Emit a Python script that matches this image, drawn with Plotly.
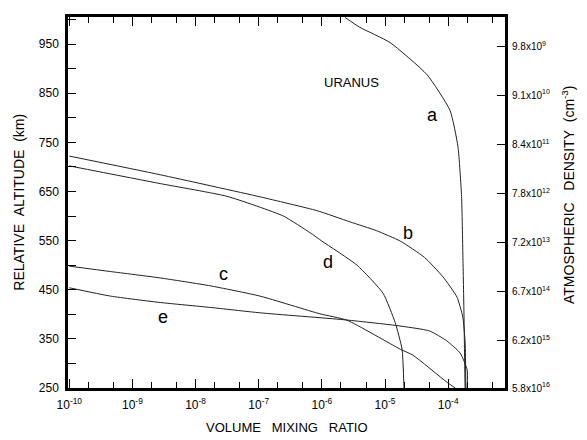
import math
import plotly.graph_objects as go

# ---- data (volume mixing ratio, relative altitude km) ----
a_x = [2.33e-6, 4.0e-6, 1.2e-5, 4.6e-5, 1.07e-4, 1.43e-4, 1.63e-4, 1.71e-4, 1.78e-4, 1.85e-4]
a_y = [1004, 984, 953, 888, 815, 741, 640, 520, 400, 250]

b_x = [1.0e-10, 2.75e-9, 1.05e-7, 8.3e-7, 2.8e-6, 7.4e-6, 1.74e-5, 4.2e-5, 8.3e-5, 1.38e-4, 1.7e-4, 1.86e-4, 1.9e-4]
b_y = [722, 684, 639, 611, 588, 570, 549, 516, 476, 435, 395, 341, 250]

c_x = [1.0e-10, 4.5e-10, 2.75e-9, 1.7e-8, 1.05e-7, 9.3e-7, 2.5e-6, 1.74e-5, 2.75e-5, 9.5e-5, 1.29e-4]
c_y = [498, 487, 474, 458, 437, 401, 388, 329, 317, 262, 250]

d_x = [1.0e-10, 2.75e-9, 3.16e-8, 2.45e-7, 6.5e-7, 1.0e-6, 3.6e-6, 9.3e-6, 1.45e-5, 1.86e-5, 2.0e-5]
d_y = [702, 666, 640, 600, 566, 549, 500, 443, 383, 329, 250]

e_x = [1.0e-10, 4.5e-10, 2.75e-9, 1.7e-8, 1.05e-7, 2.2e-6, 1.55e-5, 5.1e-5, 9.5e-5, 1.55e-4, 2.0e-4, 2.0e-4]
e_y = [454, 437, 424, 414, 403, 389, 377, 366, 346, 321, 287, 250]

curve_names = ["a", "b", "c", "d", "e"]
label_x = [5.75e-5, 2.3e-5, 2.75e-8, 1.26e-6, 3.1e-9]
label_y = [805, 566, 482, 506, 394]

x_tick_vals = [1e-10, 1e-9, 1e-8, 1e-7, 1e-6, 1e-5, 1e-4]
x_tick_text = ["10<sup>-10</sup>", "10<sup>-9</sup>", "10<sup>-8</sup>", "10<sup>-7</sup>",
               "10<sup>-6</sup>", "10<sup>-5</sup>", "10<sup>-4</sup>"]
y_tick_vals = [250, 350, 450, 550, 650, 750, 850, 950]
y_minor_vals = [300, 400, 500, 600, 700, 800, 900, 1000]
dens_tick_vals = [250, 346, 446, 546, 646, 746, 846, 944]
dens_tick_text = ["5.8x10<sup>16</sup>", "6.2x10<sup>15</sup>", "6.7x10<sup>14</sup>", "7.2x10<sup>13</sup>",
                  "7.8x10<sup>12</sup>", "8.4x10<sup>11</sup>", "9.1x10<sup>10</sup>", "9.8x10<sup>9</sup>"]

x_minor_vals = []
for k in range(-10, -3):
    for m in (2, 5):
        x_minor_vals.append(m * 10.0 ** k)

FONT = "Liberation Sans, Arial, sans-serif"
fig = go.Figure()
for xs, ys in [(a_x, a_y), (b_x, b_y), (c_x, c_y), (d_x, d_y), (e_x, e_y)]:
    fig.add_trace(go.Scatter(x=xs, y=ys, mode="lines",
                             line=dict(color="#222", width=1, shape="spline", smoothing=0.5),
                             showlegend=False, hoverinfo="skip"))

# dummy trace for right axis
fig.add_trace(go.Scatter(x=[1e-10], y=[250], yaxis="y2", mode="markers",
                         marker=dict(opacity=0), showlegend=False, hoverinfo="skip"))

for n, lx, ly in zip(curve_names, label_x, label_y):
    fig.add_annotation(x=math.log10(lx), y=ly, xref="x", yref="y", text=n, showarrow=False,
                       font=dict(family=FONT, size=18, color="black"))

fig.add_annotation(x=math.log10(3.0e-6), y=872, xref="x", yref="y", text="URANUS", showarrow=False,
                   font=dict(family=FONT, size=13, color="black"))

# The page body adds an 8px offset; compensate in size/margins
fig.update_layout(
    width=579, height=432,
    margin=dict(l=60, r=82, t=6, b=52),
    paper_bgcolor="white", plot_bgcolor="white",
    xaxis=dict(type="log", range=[-10.02, -3.1], showgrid=False, zeroline=False,
               showline=True, linecolor="black", linewidth=2.5, mirror="ticks",
               ticks="inside", ticklen=9, tickwidth=1.2, tickcolor="black",
               tickmode="array", tickvals=x_tick_vals, ticktext=x_tick_text,
               ticklabelstandoff=4,
               tickfont=dict(family=FONT, size=12, color="black"),
               minor=dict(tickmode="array", tickvals=x_minor_vals, ticks="inside",
                          ticklen=6, tickwidth=1, tickcolor="black", showgrid=False)),
    yaxis=dict(range=[250, 1005], showgrid=False, zeroline=False,
               showline=True, linecolor="black", linewidth=2.5, mirror=True,
               ticks="inside", ticklen=8, tickwidth=1.2, tickcolor="black",
               tickmode="array", tickvals=y_tick_vals, ticklabelstandoff=4,
               tickfont=dict(family=FONT, size=12, color="black"),
               minor=dict(tickmode="array", tickvals=y_minor_vals, ticks="inside",
                          ticklen=8, tickwidth=1, tickcolor="black", showgrid=False)),
    yaxis2=dict(range=[250, 1005], overlaying="y", side="right", showgrid=False,
                zeroline=False, showline=False,
                ticks="inside", ticklen=8, tickwidth=1.2, tickcolor="black",
                tickmode="array", tickvals=dens_tick_vals, ticktext=dens_tick_text,
                ticklabelstandoff=6,
                tickfont=dict(family=FONT, size=10, color="black")),
)

fig.add_annotation(xref="paper", yref="paper", x=-0.114, y=0.5, xanchor="center", yanchor="middle",
                   text="RELATIVE&nbsp;&nbsp;ALTITUDE&nbsp;&nbsp;(km)", textangle=-90, showarrow=False,
                   font=dict(family=FONT, size=14, color="black"))
fig.add_annotation(xref="paper", yref="paper", x=1.144, y=0.52, xanchor="center", yanchor="middle",
                   text="ATMOSPHERIC&nbsp;&nbsp;&nbsp;DENSITY&nbsp;&nbsp;(cm<sup>-3</sup>)", textangle=-90,
                   showarrow=False, font=dict(family=FONT, size=14, color="black"))
fig.add_annotation(xref="paper", yref="paper", x=0.5, y=-0.107, xanchor="center", yanchor="middle",
                   text="VOLUME&nbsp;&nbsp;&nbsp;MIXING&nbsp;&nbsp;&nbsp;RATIO", showarrow=False,
                   font=dict(family=FONT, size=13, color="black"))

fig.write_html("out.html")
